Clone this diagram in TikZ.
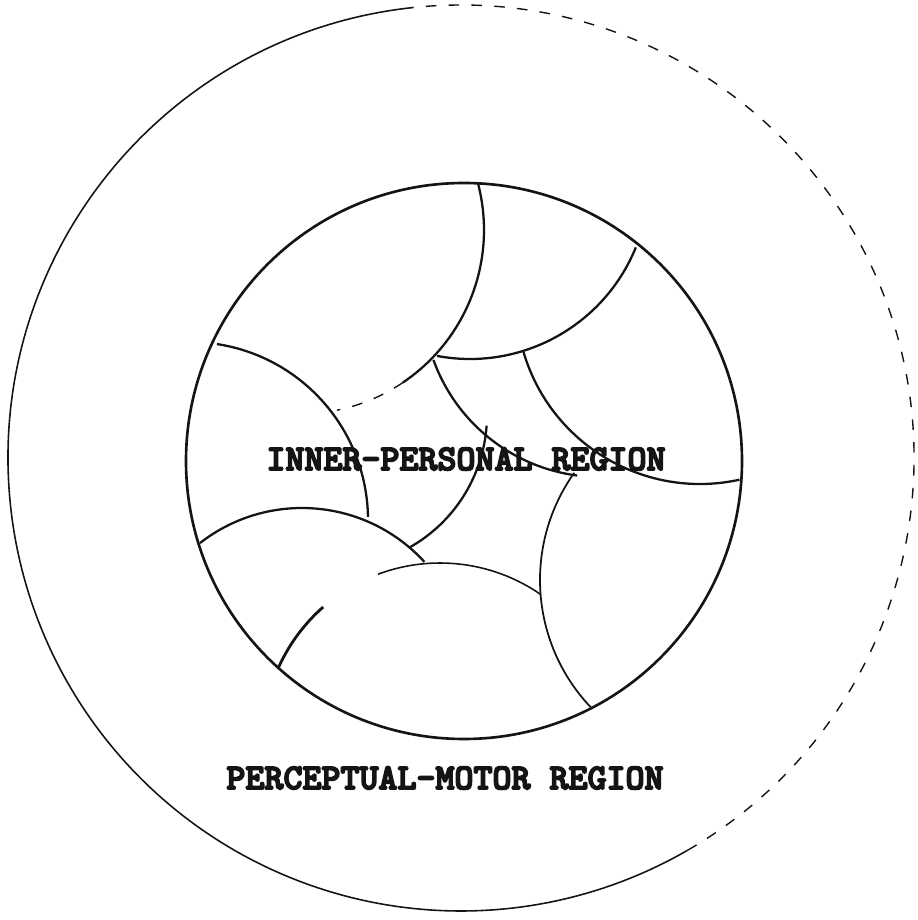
\documentclass[tikz,border=0pt]{standalone}
\usepackage{fontspec}
\newfontfamily\typer{lmmonolt10-bold.otf}[FakeBold=4.5]
\usetikzlibrary{positioning}
\definecolor{ink}{RGB}{20,20,20}
\tikzset{
  rim/.style={draw=ink,line width=0.45pt},
  wall/.style={draw=ink,line width=0.65pt},
  faint/.style={draw=ink,line width=0.4pt,dash pattern=on 3pt off 3.5pt},
  region/.style={font=\typer\fontsize{10.3}{12}\selectfont,text=ink,inner sep=0pt},
}
\begin{document}
\begin{tikzpicture}
  \useasboundingbox (0,0) rectangle (9.18,9.20);
  % the two regions
  \coordinate (outer) at (4.61,4.62);
  \coordinate (inner) at (4.64,4.59);
  \draw[rim] (outer) ++(96:4.53) arc[start angle=96,end angle=300,radius=4.53];
  \draw[faint] (outer) ++(-60:4.53) arc[start angle=-60,end angle=96,radius=4.53];
  \draw[wall,line width=0.75pt] (inner) circle[radius=2.78];
  % cells of the inner region
  \draw[wall] (3.00,6.90) ++(14.4:1.84) arc[start angle=14.4,end angle=-56,radius=1.84];
  \draw[faint] (3.00,6.90) ++(-56:1.84) arc[start angle=-56,end angle=-78.4,radius=1.84];
  \draw[wall] (4.70,7.40) ++(-22.1:1.79) arc[start angle=-22.1,end angle=-100.6,radius=1.79];
  \draw[wall] (6.00,6.20) ++(199.8:1.77) arc[start angle=199.8,end angle=262.6,radius=1.77];
  \draw[wall] (7.00,6.20) ++(196.4:1.84) arc[start angle=196.4,end angle=282.4,radius=1.84];
  \draw[wall,line width=0.5pt] (7.25,3.40) ++(144.6:1.85) arc[start angle=144.6,end angle=223.9,radius=1.85];
  \draw[wall] (1.90,4.00) ++(81.3:1.78) arc[start angle=81.3,end angle=1,radius=1.78];
  \draw[wall] (3.02,2.46) ++(127.9:1.66) arc[start angle=127.9,end angle=42.5,radius=1.66];
  \draw[wall] (3.35,5.05) ++(-4:1.52) arc[start angle=-4,end angle=-60.6,radius=1.52];
  \draw[wall,line width=0.8pt] (4.40,1.80) ++(156.2:1.77) arc[start angle=156.2,end angle=131.3,radius=1.77];
  \draw[wall,line width=0.45pt] (4.40,1.80) ++(110.5:1.77) arc[start angle=110.5,end angle=55.4,radius=1.77];
  % labels
  \node[region] (inlabel) at (4.66,4.61) {INNER-PERSONAL REGION};
  \node[region] (outlabel) at (4.45,1.42) {PERCEPTUAL-MOTOR REGION};
\end{tikzpicture}
\end{document}
